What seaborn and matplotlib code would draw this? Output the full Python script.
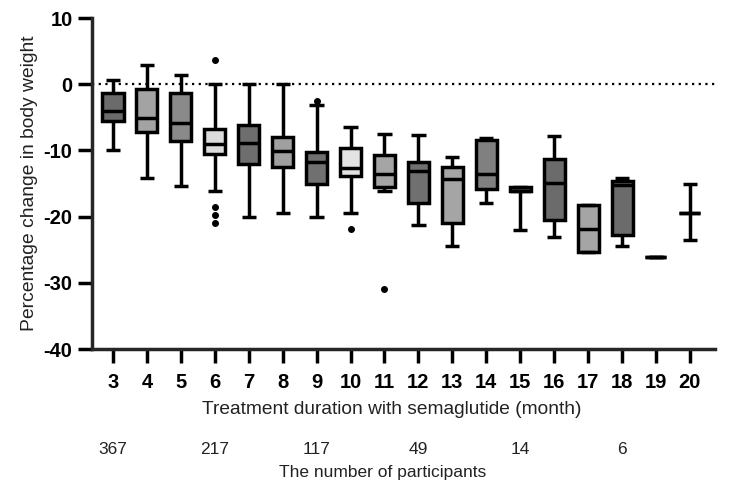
import matplotlib
matplotlib.use("Agg")
import matplotlib.pyplot as plt
import matplotlib.transforms as mtransforms
import seaborn as sns

# ---- data ----
months = [3, 4, 5, 6, 7, 8, 9, 10, 11, 12, 13, 14, 15, 16, 17, 18, 19, 20]
whishi = [0.6, 2.9, 1.4, 0.0, 0.0, 0.0, -3.2, -6.4, -7.5, -7.7, -11.0, -8.1, -15.5, -7.8, -18.3, -14.2, -26.1, -15.1]
q3 = [-1.4, -0.8, -1.3, -6.7, -6.2, -8.0, -10.3, -9.6, -10.7, -11.7, -12.5, -8.5, -15.6, -11.3, -18.3, -14.6, -26.1, -19.4]
med = [-4.1, -5.1, -5.8, -9.0, -8.9, -10.1, -11.8, -12.7, -13.5, -13.1, -14.3, -13.6, -16.2, -14.9, -21.9, -15.2, -26.1, -19.4]
q1 = [-5.6, -7.2, -8.6, -10.5, -12.0, -12.5, -15.0, -13.9, -15.6, -18.0, -20.9, -15.9, -16.2, -20.5, -25.3, -22.8, -26.1, -19.4]
whislo = [-10.0, -14.1, -15.4, -16.2, -20.1, -19.4, -20.1, -19.5, -16.2, -21.3, -24.5, -18.0, -22.0, -23.1, -25.3, -24.5, -26.1, -23.6]
outlier_month = [6, 6, 6, 6, 9, 10, 11]
outlier_value = [3.6, -18.5, -19.8, -21.0, -2.6, -21.9, -31.0]
box_fill = ["#6b6b6b", "#a3a3a3", "#8a8a8a", "#dcdcdc", "#6e6e6e", "#a0a0a0", "#707070",
            "#e3e3e3", "#a5a5a5", "#707070", "#a5a5a5", "#808080", "#808080", "#6b6b6b",
            "#a5a5a5", "#6b6b6b", "#6b6b6b", "#6b6b6b"]
count_months = [3, 6, 9, 12, 15, 18]
count_labels = ["367", "217", "117", "49", "14", "6"]
y_ticks = [10, 0, -10, -20, -30, -40]

sns.set_style("ticks")
plt.rcParams["font.family"] = ["Liberation Sans", "DejaVu Sans"]
plt.rcParams["axes.unicode_minus"] = False

fig = plt.figure(figsize=(7.5, 4.97), dpi=100)
ax = fig.add_axes([92 / 750, 1 - 349 / 497, (715 - 92) / 750, (349 - 18) / 497])

stats = []
for i, m in enumerate(months):
    stats.append(dict(med=med[i], q1=q1[i], q3=q3[i], whislo=whislo[i], whishi=whishi[i],
                      fliers=[v for mm, v in zip(outlier_month, outlier_value) if mm == m]))

lw = 2.5
bp = ax.bxp(stats, positions=months, widths=0.62, capwidths=0.42, patch_artist=True,
            showfliers=True,
            boxprops=dict(linewidth=lw, edgecolor="black", joinstyle="miter"),
            whiskerprops=dict(linewidth=lw, color="black", solid_capstyle="butt"),
            capprops=dict(linewidth=lw, color="black", solid_capstyle="butt"),
            medianprops=dict(linewidth=lw, color="black", solid_capstyle="butt"),
            flierprops=dict(marker="o", markerfacecolor="black", markeredgecolor="black",
                            markersize=4, linestyle="none"))
for patch, c in zip(bp["boxes"], box_fill):
    patch.set_facecolor(c)

ax.axhline(0, color="black", linestyle=(0, (1, 2)), linewidth=1.6, zorder=0)

ax.set_xlim(2.381, 20.74)
ax.set_ylim(-40, 10)
ax.set_yticks(y_ticks)
ax.set_xticks(months)
ax.set_xticklabels([str(m) for m in months])
sns.despine(ax=ax)
for s in ["left", "bottom"]:
    ax.spines[s].set_linewidth(lw)
ax.tick_params(axis="both", direction="out", length=10, width=lw, colors="black")
ax.tick_params(axis="x", pad=7, labelsize=14.5)
ax.tick_params(axis="y", pad=4, labelsize=14.5)
for lab in ax.get_xticklabels() + ax.get_yticklabels():
    lab.set_fontweight("bold")

ax.set_ylabel("Percentage change in body weight", fontsize=13.9, color="#222222")
ax.yaxis.set_label_coords(-0.086, 0.5)
fig.text(392 / 750, 1 - 410 / 497, "Treatment duration with semaglutide (month)",
         ha="center", va="center", fontsize=13.8, color="#222222")

trans = mtransforms.blended_transform_factory(ax.transData, fig.transFigure)
for m, lab in zip(count_months, count_labels):
    ax.text(m, 1 - 449 / 497, lab, transform=trans, ha="center", va="center",
            fontsize=12.5, color="#222222")
fig.text(383 / 750, 1 - 473 / 497, "The number of participants", ha="center", va="center",
         fontsize=12.5, color="#222222")

fig.savefig("out.png", dpi=100)
